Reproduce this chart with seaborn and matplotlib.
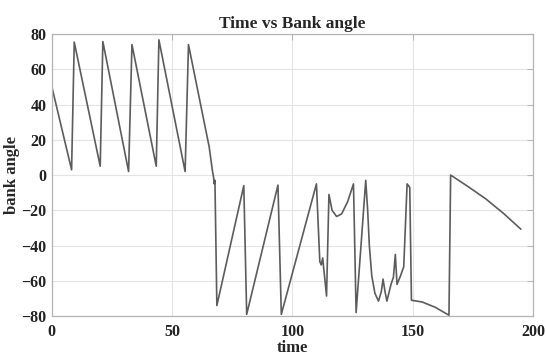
import matplotlib
matplotlib.use("Agg")
import matplotlib.pyplot as plt
import seaborn as sns
import pandas as pd

time = [0, 8.2, 9.3, 20.1, 21.2, 31.9, 33.3, 43.4, 44.5, 55.4, 56.8, 65.4, 66.8, 67.2,
        67.5, 67.8, 68.6, 79.8, 81.0, 94.0, 95.4, 110.0, 111.4, 112.0, 112.6, 114.2,
        115.2, 116.5, 118.4, 120.5, 123.0, 125.4, 126.5, 130.5, 131.3, 132.0, 133.0,
        134.3, 135.8, 137.0, 137.7, 138.5, 139.3, 141.0, 142.0, 142.8, 143.5, 145.0,
        146.3, 147.7, 148.8, 149.5, 154.0, 159.4, 165.1, 165.8, 173.0, 180.5, 188.0, 195.0]
bank_angle = [50, 3, 75.4, 5, 75.7, 2, 74, 5, 76.7, 2, 74, 16, 2, -1,
              -5, -3, -74, -6, -79, -5.7, -79, -5, -49, -51, -47, -68.6,
              -11, -20, -23.5, -22, -15, -5, -78, -3, -20, -40, -57,
              -67, -71.5, -66, -59, -66, -71.5, -62, -58, -45, -62, -57,
              -52, -5, -7, -71, -72, -75, -79.5, 0, -6.5, -13.6, -22, -30.7]
x_ticks = [0, 50, 100, 150, 200]
y_ticks = [-80, -60, -40, -20, 0, 20, 40, 60, 80]

sns.set_style("white")
plt.rcParams['font.family'] = ['Liberation Serif', 'DejaVu Serif']
plt.rcParams['font.weight'] = 'bold'

df = pd.DataFrame({"time": time, "bank angle": bank_angle})

fig = plt.figure(figsize=(5.46, 3.58), dpi=100)
ax = fig.add_axes([0.095, 0.117, 0.881, 0.788])
sns.lineplot(data=df, x="time", y="bank angle", sort=False, estimator=None,
             color="#5c5c5c", linewidth=1.2, ax=ax)

ax.set_xlim(0, 200)
ax.set_ylim(-80, 80)
ax.set_xticks(x_ticks)
ax.set_yticks(y_ticks)
ax.grid(True, color="#e4e4e4", linewidth=0.8)
for s in ax.spines.values():
    s.set_color("#b5b5b5")
    s.set_linewidth(0.9)
ax.tick_params(direction="in", top=True, right=True, length=4, color="#b5b5b5",
               labelsize=11.5, labelcolor="#222222")
ax.tick_params(axis="x", pad=6)
ax.tick_params(axis="y", pad=4)
for lab in ax.get_xticklabels() + ax.get_yticklabels():
    lab.set_fontweight("bold")
ax.set_title("Time vs Bank angle", fontsize=12.5, fontweight="bold", pad=4)
ax.set_xlabel("time", fontsize=12, fontweight="bold", labelpad=0)
ax.set_ylabel("bank angle", fontsize=12, fontweight="bold", labelpad=1)

fig.savefig("out.png", dpi=100)
